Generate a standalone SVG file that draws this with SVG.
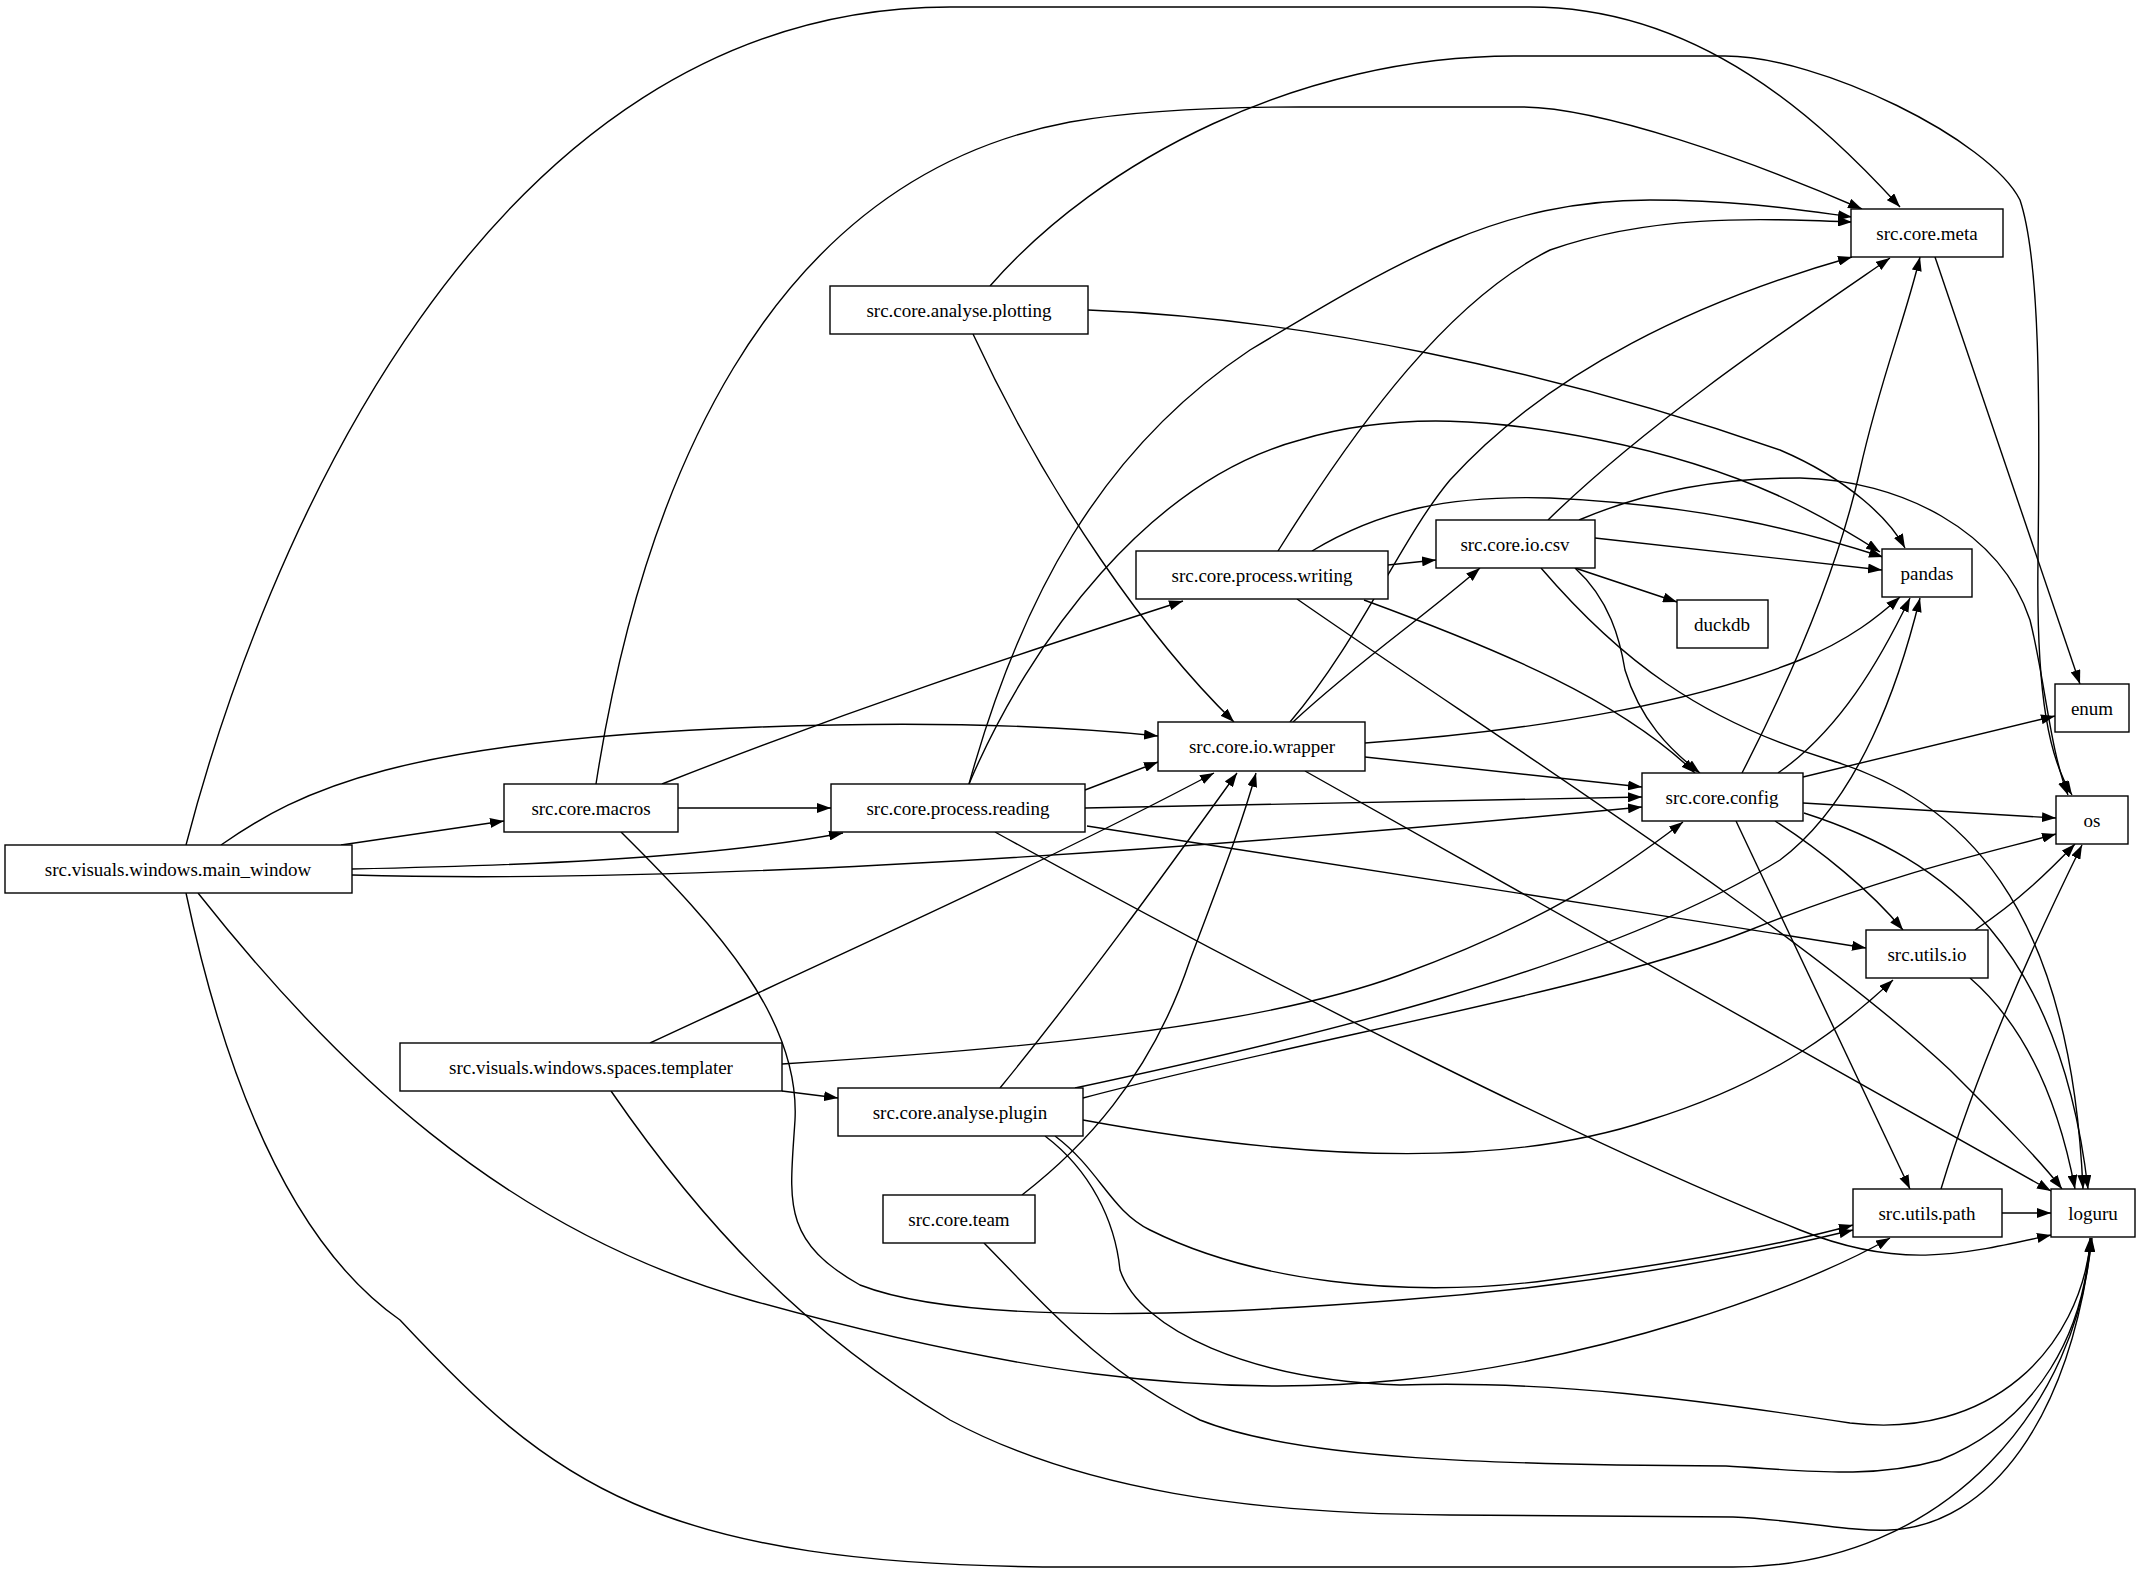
<svg xmlns="http://www.w3.org/2000/svg" width="2141" height="1589" viewBox="0 0 2141 1589">
<style>
.n rect{fill:#fff;stroke:#000;stroke-width:1.4}
.n text{font-family:"Liberation Serif",serif;font-size:19px;text-anchor:middle;dominant-baseline:central;fill:#000}
.e path{fill:none;stroke:#000;stroke-width:1.4;marker-end:url(#a)}
</style>
<defs><marker id="a" markerUnits="userSpaceOnUse" markerWidth="14" markerHeight="10" refX="14" refY="5" orient="auto"><path d="M0,0 L14,5 L0,10 z" fill="#000"/></marker></defs>
<rect width="2141" height="1589" fill="#fff"/>
<g class="e" id="edges">
<path d="M186,845 C260,560 480,7 950,7 L1530,7 C1700,7 1820,120 1900,207"/>
<path d="M221,845 C300,790 400,740 760,727 C950,720 1080,728 1158,736"/>
<path d="M341,845 L504,821"/>
<path d="M352,869 C500,866 700,860 843,833"/>
<path d="M352,875 C600,882 1000,868 1642,807"/>
<path d="M198,893 C330,1060 500,1230 750,1300 C1000,1370 1200,1400 1400,1380 C1600,1360 1800,1290 1890,1238"/>
<path d="M186,893 C230,1100 300,1250 400,1320 C550,1480 650,1567 1070,1567 L1733,1567 C1950,1567 2080,1400 2091,1238"/>
<path d="M596,784 C640,500 760,180 1070,122 C1150,108 1250,107 1300,107 L1521,107 C1600,107 1750,160 1862,209"/>
<path d="M662,784 C850,710 1000,660 1183,601"/>
<path d="M678,808 L831,808"/>
<path d="M621,832 C720,930 800,1020 795,1120 C790,1200 780,1240 860,1285 C950,1320 1150,1320 1400,1300 C1600,1285 1750,1255 1853,1230"/>
<path d="M990,286 C1100,160 1300,56 1514,56 L1725,56 C1820,56 1990,140 2020,200 C2040,260 2040,400 2038,560 C2036,700 2050,760 2072,795"/>
<path d="M1088,310 C1300,318 1550,370 1780,450 C1850,480 1890,520 1905,548"/>
<path d="M973,334 C1050,500 1150,640 1234,722"/>
<path d="M969,784 C1020,600 1100,450 1250,350 C1400,260 1500,200 1650,200 C1740,200 1800,210 1852,217"/>
<path d="M969,784 C1030,640 1150,480 1300,440 C1400,410 1500,420 1600,440 C1750,470 1830,520 1880,552"/>
<path d="M1085,790 L1158,762"/>
<path d="M1085,808 C1300,805 1500,800 1642,797"/>
<path d="M1087,826 C1300,860 1600,905 1866,948"/>
<path d="M995,832 C1300,1000 1600,1150 1800,1230 C1900,1270 1960,1255 2051,1235"/>
<path d="M1290,722 C1360,640 1400,540 1450,480 C1550,370 1700,300 1852,257"/>
<path d="M1293,722 C1360,660 1420,620 1480,568"/>
<path d="M1365,743 C1550,730 1700,700 1800,660 C1850,640 1880,615 1900,597"/>
<path d="M1365,757 L1642,787"/>
<path d="M1305,771 C1500,880 1800,1050 2051,1191"/>
<path d="M1278,551 C1360,420 1450,300 1550,250 C1650,215 1750,218 1852,222"/>
<path d="M1312,551 C1380,510 1450,495 1550,498 C1700,505 1800,530 1883,557"/>
<path d="M1388,565 L1436,560"/>
<path d="M1364,600 C1500,650 1620,700 1695,773"/>
<path d="M1297,599 C1500,740 1800,930 1950,1070 C2000,1120 2040,1160 2062,1189"/>
<path d="M1548,520 C1650,420 1800,320 1890,258"/>
<path d="M1579,520 C1650,490 1720,478 1800,478 C1900,480 2000,530 2030,620 C2045,680 2050,750 2068,795"/>
<path d="M1595,538 L1882,570"/>
<path d="M1575,568 L1677,602"/>
<path d="M1575,568 C1610,600 1620,640 1625,670 C1640,720 1670,750 1700,773"/>
<path d="M1541,568 C1620,660 1700,720 1830,760 C1960,800 2070,900 2083,1189"/>
<path d="M1935,257 L2080,684"/>
<path d="M1742,773 C1800,660 1840,560 1860,470 C1880,380 1905,320 1920,257"/>
<path d="M1778,773 C1840,730 1880,660 1910,598"/>
<path d="M1803,777 L2055,716"/>
<path d="M1803,803 L2056,818"/>
<path d="M1775,821 C1820,850 1870,890 1903,930"/>
<path d="M1736,821 L1910,1189"/>
<path d="M1804,813 C1950,860 2060,950 2088,1189"/>
<path d="M1075,1088 C1300,1040 1600,970 1780,860 C1860,800 1900,680 1920,598"/>
<path d="M1000,1088 C1080,990 1160,880 1237,773"/>
<path d="M1083,1098 C1300,1040 1600,990 1750,930 C1900,870 2000,850 2056,834"/>
<path d="M1083,1120 C1300,1160 1500,1170 1650,1120 C1780,1080 1850,1020 1893,980"/>
<path d="M1055,1136 C1100,1170 1110,1210 1150,1230 C1250,1280 1400,1300 1550,1280 C1700,1260 1800,1240 1853,1225"/>
<path d="M1045,1136 C1090,1170 1115,1220 1120,1270 C1140,1330 1250,1380 1400,1385 C1550,1380 1700,1400 1850,1423 C1990,1440 2080,1350 2091,1238"/>
<path d="M650,1043 C850,950 1050,860 1214,773"/>
<path d="M782,1064 C1000,1050 1250,1030 1400,975 C1550,920 1620,870 1683,822"/>
<path d="M782,1091 L838,1098"/>
<path d="M611,1091 C700,1220 800,1330 950,1420 C1080,1490 1250,1514 1450,1515 L1733,1517 C1800,1520 1850,1532 1890,1530 C1990,1525 2070,1420 2092,1238"/>
<path d="M1022,1195 C1080,1150 1150,1080 1190,960 C1220,880 1240,830 1256,773"/>
<path d="M984,1243 C1050,1310 1100,1370 1200,1420 C1300,1460 1500,1465 1726,1466 C1800,1470 1870,1480 1940,1460 C2040,1420 2085,1330 2090,1238"/>
<path d="M1975,930 C2020,900 2050,870 2075,844"/>
<path d="M1970,978 C2030,1030 2060,1110 2075,1189"/>
<path d="M1941,1189 C1980,1060 2040,930 2082,845"/>
<path d="M2002,1213 L2051,1213"/>
</g>
<g class="n" id="main_window"><rect x="5" y="845" width="347" height="48"/><text x="178" y="869">src.visuals.windows.main_window</text></g>
<g class="n" id="macros"><rect x="504" y="784" width="174" height="48"/><text x="591" y="808">src.core.macros</text></g>
<g class="n" id="reading"><rect x="831" y="784" width="254" height="48"/><text x="958" y="808">src.core.process.reading</text></g>
<g class="n" id="templater"><rect x="400" y="1043" width="382" height="48"/><text x="591" y="1067">src.visuals.windows.spaces.templater</text></g>
<g class="n" id="plugin"><rect x="838" y="1088" width="245" height="48"/><text x="960" y="1112">src.core.analyse.plugin</text></g>
<g class="n" id="team"><rect x="883" y="1195" width="152" height="48"/><text x="959" y="1219">src.core.team</text></g>
<g class="n" id="wrapper"><rect x="1158" y="722" width="207" height="49"/><text x="1262" y="746">src.core.io.wrapper</text></g>
<g class="n" id="writing"><rect x="1136" y="551" width="252" height="48"/><text x="1262" y="575">src.core.process.writing</text></g>
<g class="n" id="csv"><rect x="1436" y="520" width="159" height="48"/><text x="1515" y="544">src.core.io.csv</text></g>
<g class="n" id="config"><rect x="1642" y="773" width="161" height="48"/><text x="1722" y="797">src.core.config</text></g>
<g class="n" id="pandas"><rect x="1882" y="549" width="90" height="48"/><text x="1927" y="573">pandas</text></g>
<g class="n" id="duckdb"><rect x="1677" y="600" width="91" height="48"/><text x="1722" y="624">duckdb</text></g>
<g class="n" id="enum"><rect x="2055" y="684" width="74" height="48"/><text x="2092" y="708">enum</text></g>
<g class="n" id="os"><rect x="2056" y="796" width="72" height="48"/><text x="2092" y="820">os</text></g>
<g class="n" id="utils_io"><rect x="1866" y="930" width="122" height="48"/><text x="1927" y="954">src.utils.io</text></g>
<g class="n" id="meta"><rect x="1851" y="209" width="152" height="48"/><text x="1927" y="233">src.core.meta</text></g>
<g class="n" id="utils_path"><rect x="1853" y="1189" width="149" height="48"/><text x="1927" y="1213">src.utils.path</text></g>
<g class="n" id="loguru"><rect x="2051" y="1189" width="84" height="48"/><text x="2093" y="1213">loguru</text></g>
<g class="n" id="plotting"><rect x="830" y="286" width="258" height="48"/><text x="959" y="310">src.core.analyse.plotting</text></g>
</svg>
